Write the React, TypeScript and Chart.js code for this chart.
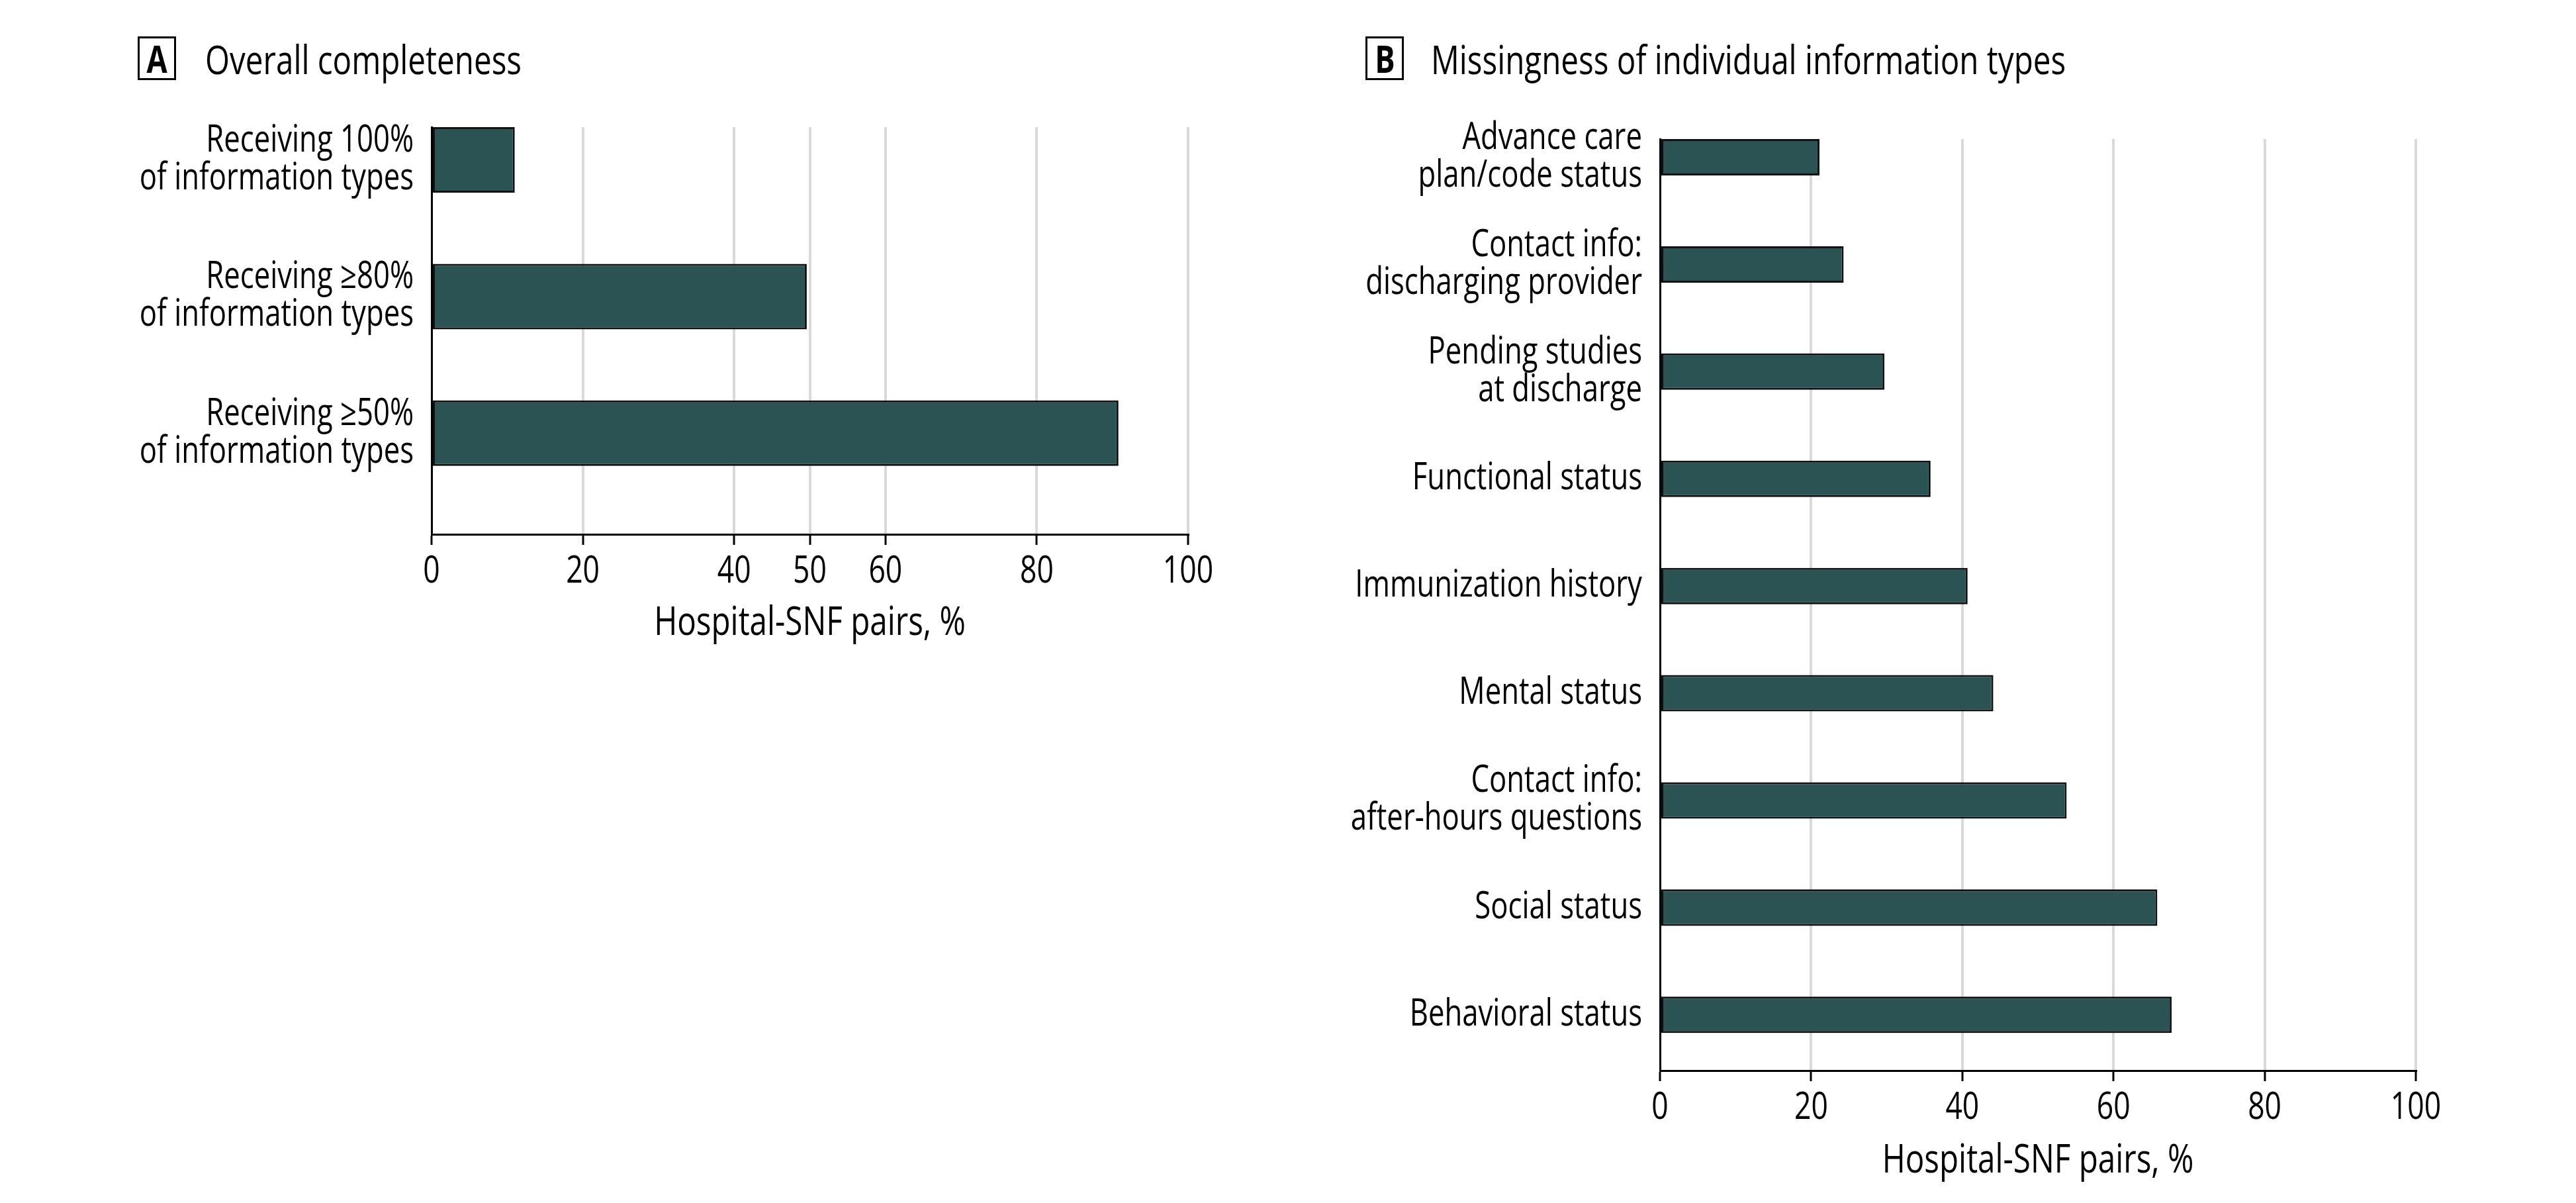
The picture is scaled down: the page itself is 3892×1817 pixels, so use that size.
import React, { useEffect, useRef } from 'react';
import { Chart, registerables } from 'chart.js';

Chart.register(...registerables);

const FONT = '"Open Sans", "Noto Sans", sans-serif';
const CONDENSE = 0.78;

const panelALetter = 'A';
const panelATitle = 'Overall completeness';
const panelBLetter = 'B';
const panelBTitle = 'Missingness of individual information types';
const axisTitle = 'Hospital-SNF pairs, %';

const categoriesA: string[][] = [
  ['Receiving 100%', 'of information types'],
  ['Receiving ≥80%', 'of information types'],
  ['Receiving ≥50%', 'of information types'],
];
const valuesA = [11.0, 49.6, 90.8];
const ticksA = [0, 20, 40, 50, 60, 80, 100];

const categoriesB: string[][] = [
  ['Advance care', 'plan/code status'],
  ['Contact info:', 'discharging provider'],
  ['Pending studies', 'at discharge'],
  ['Functional status'],
  ['Immunization history'],
  ['Mental status'],
  ['Contact info:', 'after-hours questions'],
  ['Social status'],
  ['Behavioral status'],
];
const valuesB = [21.1, 24.3, 29.7, 35.8, 40.7, 44.1, 53.8, 65.8, 67.7];
const ticksB = [0, 20, 40, 60, 80, 100];

const BAR = '#2c5353';
const GRID = '#d9d9d9';

type P = {
  categories: string[][];
  values: number[];
  ticks: number[];
  yMin: number;
  yMax: number;
  barPct: number;
  yAxisWidth: number;
  xAxisHeight: number;
  padTop: number;
  padRight: number;
};

function condenseContext(canvas: HTMLCanvasElement) {
  const ctx = canvas.getContext('2d') as any;
  if (!ctx || ctx.__condensed) return;
  const orig = ctx.fillText.bind(ctx);
  ctx.fillText = (t: string, x: number, y: number, mw?: number) => {
    const w = ctx.measureText(t).width * CONDENSE;
    const m = mw !== undefined && mw !== null ? Math.min(mw, w) : w;
    if (m > 0) orig(t, x, y, m);
  };
  ctx.__condensed = true;
}

function buildConfig(p: P): any {
  return {
    type: 'bar',
    data: {
      datasets: [
        {
          data: p.values.map((v, i) => ({ x: v, y: i })),
          backgroundColor: BAR,
          borderColor: '#111',
          borderWidth: 3,
          borderSkipped: false,
          barPercentage: p.barPct,
          categoryPercentage: 1,
        },
      ],
    },
    options: {
      indexAxis: 'y',
      responsive: false,
      animation: false,
      devicePixelRatio: 1,
      layout: { padding: { top: p.padTop, right: p.padRight, left: 0, bottom: 0 } },
      plugins: {
        legend: { display: false },
        tooltip: { enabled: false },
        title: { display: false },
      },
      scales: {
        x: {
          type: 'linear',
          position: 'bottom',
          min: 0,
          max: 100,
          offset: false,
          afterBuildTicks: (s: any) => {
            s.ticks = p.ticks.map((v) => ({ value: v }));
          },
          afterFit: (s: any) => {
            s.height = p.xAxisHeight;
          },
          grid: {
            color: (c: any) => (c.tick && c.tick.value === 0 ? 'rgba(0,0,0,0)' : GRID),
            lineWidth: 4,
            tickColor: '#000',
            tickLength: 16,
            tickWidth: 3,
            drawTicks: true,
            offset: false,
          },
          border: { display: true, color: '#000', width: 3 },
          ticks: {
            font: { size: 57, family: FONT },
            color: '#000',
            padding: 7,
            autoSkip: false,
            maxRotation: 0,
            callback: (v: any) => String(v),
          },
          title: {
            display: true,
            text: axisTitle,
            font: { size: 61, family: FONT },
            color: '#000',
            padding: { top: 0, bottom: 0 },
          },
        },
        y: {
          type: 'linear',
          reverse: true,
          min: p.yMin,
          max: p.yMax,
          offset: false,
          afterBuildTicks: (s: any) => {
            s.ticks = p.categories.map((_, i) => ({ value: i }));
          },
          afterFit: (s: any) => {
            s.width = p.yAxisWidth;
          },
          grid: { display: false, drawTicks: false, tickLength: 0, offset: false },
          border: { display: true, color: '#000', width: 3 },
          ticks: {
            font: { size: 56, family: FONT, lineHeight: 1.02 },
            color: '#000',
            padding: 27,
            autoSkip: false,
            callback: (v: any) => p.categories[v] ?? '',
          },
        },
      },
    },
  };
}

function PanelTitle({ letter, text, boxLeft, textLeft }: { letter: string; text: string; boxLeft: number; textLeft: number }) {
  return (
    <>
      <div
        style={{
          position: 'absolute',
          left: boxLeft,
          top: 55,
          width: 58,
          height: 66,
          boxSizing: 'border-box',
          border: '3px solid #000',
          display: 'flex',
          alignItems: 'center',
          justifyContent: 'center',
          color: '#000',
        }}
      >
        <span
          style={{
            display: 'inline-block',
            fontWeight: 'bold',
            fontSize: 58,
            lineHeight: 1,
            fontFamily: FONT,
            transform: `scaleX(${CONDENSE})`,
          }}
        >
          {letter}
        </span>
      </div>
      <div
        style={{
          position: 'absolute',
          left: textLeft,
          top: 55,
          height: 66,
          display: 'flex',
          alignItems: 'center',
          fontSize: 61,
          fontFamily: FONT,
          color: '#000',
          whiteSpace: 'nowrap',
          transform: `scaleX(${CONDENSE})`,
          transformOrigin: 'left center',
        }}
      >
        {text}
      </div>
    </>
  );
}

export default function App() {
  const refA = useRef<HTMLCanvasElement>(null);
  const refB = useRef<HTMLCanvasElement>(null);

  useEffect(() => {
    const ca = refA.current as HTMLCanvasElement;
    const cb = refB.current as HTMLCanvasElement;
    condenseContext(ca);
    condenseContext(cb);
    const a = new Chart(
      ca,
      buildConfig({
        categories: categoriesA,
        values: valuesA,
        ticks: ticksA,
        yMin: -0.24,
        yMax: 2.74,
        barPct: 0.48,
        yAxisWidth: 652,
        xAxisHeight: 171,
        padTop: 192,
        padRight: 155,
      })
    );
    const b = new Chart(
      cb,
      buildConfig({
        categories: categoriesB,
        values: valuesB,
        ticks: ticksB,
        yMin: -0.17,
        yMax: 8.52,
        barPct: 0.34,
        yAxisWidth: 558,
        xAxisHeight: 173,
        padTop: 210,
        padRight: 242,
      })
    );
    return () => {
      a.destroy();
      b.destroy();
    };
  }, []);

  return (
    <div style={{ position: 'absolute', left: 0, top: 0, width: 3892, height: 1817, background: '#fff' }}>
      <PanelTitle letter={panelALetter} text={panelATitle} boxLeft={208} textLeft={310} />
      <PanelTitle letter={panelBLetter} text={panelBTitle} boxLeft={2063} textLeft={2162} />
      <canvas
        ref={refA}
        width={1950}
        height={978}
        style={{ position: 'absolute', left: 0, top: 0, width: 1950, height: 978 }}
      />
      <canvas
        ref={refB}
        width={1942}
        height={1790}
        style={{ position: 'absolute', left: 1950, top: 0, width: 1942, height: 1790 }}
      />
    </div>
  );
}
